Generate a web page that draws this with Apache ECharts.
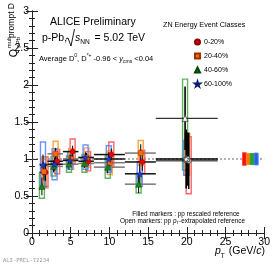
<!DOCTYPE html>
<html><head><meta charset="utf-8">
<script src="https://cdn.jsdelivr.net/npm/echarts@6/dist/echarts.min.js"></script>
<style>html,body{margin:0;padding:0;background:#fff}#c{width:273px;height:264px}</style>
</head><body><div id="c"></div><script>
// ---------------- data ----------------
const classNames = ['0-20%', '20-40%', '40-60%', '60-100%'];
const binCenters = [1.5, 3, 5, 7, 10, 14, 20];
const binLow = [1, 2, 4, 6, 8, 12, 16];
const binHigh = [2, 4, 6, 8, 12, 16, 24];
const openMarker = [false, false, false, false, false, false, true];

const q0020 = [0.82, 0.97, 1.10, 0.97, 1.06, 0.96, 0.975];
const stat0020 = [0.12, 0.08, 0.08, 0.06, 0.08, 0.12, 0.38];
const sysLo0020 = [0.61, 0.80, 0.93, 0.84, 0.89, 0.80, 0.53];
const sysHi0020 = [1.03, 1.13, 1.27, 1.10, 1.23, 1.12, 1.30];

const q2040 = [0.83, 1.07, 1.00, 1.02, 0.95, 1.08, 1.00];
const stat2040 = [0.12, 0.08, 0.07, 0.06, 0.08, 0.12, 0.36];
const sysLo2040 = [0.63, 0.90, 0.86, 0.89, 0.79, 0.91, 0.78];
const sysHi2040 = [1.03, 1.24, 1.14, 1.15, 1.11, 1.25, 1.35];

const q4060 = [0.63, 0.90, 0.93, 0.94, 0.89, 0.66, 1.55];
const stat4060 = [0.12, 0.08, 0.07, 0.06, 0.08, 0.12, 0.43];
const sysLo4060 = [0.47, 0.77, 0.82, 0.82, 0.74, 0.54, 0.85];
const sysHi4060 = [0.81, 1.03, 1.04, 1.06, 1.04, 0.78, 2.08];

const q60100 = [0.92, 0.93, 0.98, 1.02, 1.00, 0.80, 1.00];
const stat60100 = [0.14, 0.09, 0.08, 0.07, 0.09, 0.14, 0.40];
const sysLo60100 = [0.62, 0.72, 0.86, 0.86, 0.82, 0.63, 0.78];
const sysHi60100 = [1.23, 1.14, 1.10, 1.19, 1.18, 0.96, 1.25];

const normCenters = [27.45, 27.95, 28.45, 28.97];
const normUnc = [0.085, 0.075, 0.075, 0.08];
const refLineX = [0, 30];
const refLineY = 1;

const xTicks = [0, 5, 10, 15, 20, 25, 30];
const yTicks = [0, 0.5, 1, 1.5, 2, 2.5, 3];

// ---------------- style ----------------
const FONT = 'Liberation Sans, Arial, sans-serif';
const markerColors = ['#ee0000', '#ff6a00', '#138a13', '#1f3fd0'];
const markerBorders = ['#8a0000', '#a03000', '#004800', '#0a1a70'];
const boxColors = ['#ff4040', '#ff8c1a', '#3aa03a', '#4a78ff'];
const normFill = ['#ff0000', '#ff7000', '#16a016', '#1060e0'];
const xErrColors = ['#111', '#777', '#777', '#111'];
const offsets = [0.25, 0.05, -0.22, -0.08];
const STAR = 'path://M50,0 L61,35 L98,35 L68,57 L79,91 L50,70 L21,91 L32,57 L2,35 L39,35 Z';
const symbols = ['circle', 'rect', 'triangle', STAR];
const symSizes = [5, 5, 6, 7];

const classData = [
  [q0020, stat0020, sysLo0020, sysHi0020],
  [q2040, stat2040, sysLo2040, sysHi2040],
  [q4060, stat4060, sysLo4060, sysHi4060],
  [q60100, stat60100, sysLo60100, sysHi60100]
];

const series = [];
series.push({
  type: 'line', silent: true, symbol: 'none', z: 1,
  data: refLineX.map(x => [x, refLineY]),
  lineStyle: { color: '#666', width: 1, type: [2, 2] }
});
series.push({
  type: 'custom', z: 2, silent: true,
  data: normCenters.map((c, i) => [c, normUnc[i], i]),
  renderItem: function (params, api) {
    const c = api.value(0), u = api.value(1), i = api.value(2);
    const p1 = api.coord([c - 0.25, 1 + u]);
    const p2 = api.coord([c + 0.25, 1 - u]);
    return { type: 'rect', shape: { x: p1[0], y: p1[1], width: p2[0] - p1[0], height: p2[1] - p1[1] },
      style: { fill: normFill[i], stroke: boxColors[i], lineWidth: 1, opacity: 0.95 } };
  }
});

classData.forEach((cd, k) => {
  const [vals, stat, lo, hi] = cd;
  series.push({
    type: 'custom', z: 3, silent: true,
    data: binCenters.map((c, i) => [c + offsets[k], lo[i], hi[i]]),
    renderItem: function (params, api) {
      const x = api.value(0);
      const p1 = api.coord([x, api.value(2)]);
      const p2 = api.coord([x, api.value(1)]);
      const w = 5;
      return { type: 'rect', shape: { x: p1[0] - w / 2, y: p1[1], width: w, height: p2[1] - p1[1] },
        style: { fill: 'none', stroke: boxColors[k], lineWidth: 1.4, opacity: 0.8 } };
    }
  });
  series.push({
    type: 'custom', z: 4, silent: true,
    data: binCenters.map((c, i) => [c + offsets[k], vals[i], stat[i], binLow[i], binHigh[i], i]),
    renderItem: function (params, api) {
      const x = api.value(0), v = api.value(1), e = api.value(2);
      const a = api.coord([x, v + e]), b = api.coord([x, v - e]);
      const l = api.coord([api.value(3), v]), r = api.coord([api.value(4), v]);
      const last = api.value(5) === 6;
      return { type: 'group', children: [
        { type: 'line', shape: { x1: l[0], y1: l[1], x2: r[0], y2: r[1] },
          style: { stroke: last ? '#000' : xErrColors[k], lineWidth: last ? 1 : 1.5 } },
        { type: 'line', shape: { x1: a[0], y1: a[1], x2: b[0], y2: b[1] },
          style: { stroke: '#000', lineWidth: last ? 1.6 : 1 } }
      ] };
    }
  });
  series.push({
    type: 'scatter', name: classNames[k], z: 5,
    symbol: symbols[k], symbolSize: symSizes[k],
    itemStyle: { color: markerColors[k], borderColor: markerBorders[k], borderWidth: 0.5, opacity: 1 },
    data: binCenters.map((c, i) => openMarker[i]
      ? { value: [c + offsets[k], vals[i]], itemStyle: { color: '#fff', borderColor: '#555', borderWidth: 1 } }
      : [c + offsets[k], vals[i]])
  });
});

// --------------- text helpers ---------------
const mctx = document.createElement('canvas').getContext('2d');
function tw(t, size, style) {
  mctx.font = (style || 'normal') + ' ' + size + 'px ' + FONT;
  return mctx.measureText(t).width;
}
function seq(x, y, segs) {
  const out = [];
  let cx = x;
  segs.forEach(s => {
    out.push({ type: 'text', x: cx + (s.dx || 0), y: y + (s.dy || 0), silent: true,
      style: { text: s.t, font: (s.st || 'normal') + ' ' + s.size + 'px ' + FONT,
        fill: s.color || '#000', align: 'left', verticalAlign: 'middle' } });
    cx += tw(s.t, s.size, s.st) + (s.dx || 0) + (s.gap || 0);
  });
  return out;
}
function rtext(x, yTop, t, size, st) {
  return { type: 'text', x: x, y: yTop, rotation: Math.PI / 2, silent: true,
    style: { text: t, font: (st || 'normal') + ' ' + size + 'px ' + FONT, fill: '#000', align: 'right', verticalAlign: 'middle' } };
}

let graphics = [];
graphics = graphics.concat(seq(50, 22, [{ t: 'ALICE Preliminary', size: 10.5 }]));
graphics = graphics.concat(seq(42, 38, [{ t: 'p-Pb,', size: 10.5, gap: 12 }]));
graphics.push({ type: 'polyline', silent: true, shape: { points: [[66, 39], [68, 38], [71, 46], [74.5, 29]] }, style: { stroke: '#000', lineWidth: 0.9, fill: 'none' } });
graphics = graphics.concat(seq(75, 38, [{ t: 's', size: 10.5, st: 'italic' }, { t: 'NN', size: 6.5, dy: 4 }, { t: ' = 5.02 TeV', size: 10.5, dx: 2 }]));
graphics = graphics.concat(seq(39, 59, [
  { t: 'Average D', size: 7.5 }, { t: '0', size: 5, dy: -3 }, { t: ', D', size: 7.5 }, { t: '*+', size: 5, dy: -3 },
  { t: ' -0.96 < ', size: 7.5 }, { t: 'y', size: 7.5, st: 'italic' }, { t: 'cms', size: 5, dy: 3 }, { t: ' <0.04', size: 7.5 }
]));
graphics = graphics.concat(seq(163, 25, [{ t: 'ZN Energy Event Classes', size: 7.2 }]));
graphics.push({ type: 'text', x: 186, y: 214, silent: true, style: { text: 'Filled markers : pp rescaled reference', font: '6.4px ' + FONT, fill: '#000', align: 'center', verticalAlign: 'middle' } });
graphics = graphics.concat(seq(120, 221, [
  { t: 'Open markers: pp ', size: 6.4 }, { t: 'p', size: 6.4, st: 'italic' }, { t: 'T', size: 4.2, dy: 2 }, { t: '-extrapolated reference', size: 6.4 }
]));
graphics.push({ type: 'text', x: 3, y: 261, silent: true, style: { text: 'ALI-PREL-72234', font: '5.5px DejaVu Sans Mono, monospace', fill: '#9a9a9a', align: 'left', verticalAlign: 'middle' } });
graphics = graphics.concat(seq(215, 251, [{ t: 'p', size: 10.5, st: 'italic' }, { t: 'T', size: 6.5, dy: 5 }, { t: ' (GeV/', size: 10.5, dx: 1 }, { t: 'c', size: 10.5, st: 'italic' }, { t: ')', size: 10.5 }]));
// y title
graphics.push(rtext(12, 3, 'prompt D', 8.5));
graphics.push(rtext(9, 37, 'mult', 6));
graphics.push(rtext(18.5, 37, 'pPb', 6));
graphics.push(rtext(14.5, 49, 'Q', 10.5));

const axisCommon = {
  min: 0, axisLine: { show: true, lineStyle: { color: '#222', width: 1 } },
  axisTick: { show: true, inside: true, length: 6, lineStyle: { color: '#222' } },
  minorTick: { show: true, splitNumber: 5, length: 3, lineStyle: { color: '#222' } },
  splitLine: { show: false }, minorSplitLine: { show: false }
};

const option = {
  animation: false,
  backgroundColor: '#fff',
  grid: { left: 32, right: 8, top: 11, bottom: 31, containLabel: false },
  xAxis: [
    Object.assign({}, axisCommon, { type: 'value', max: 30, interval: 5, position: 'bottom',
      axisLabel: { show: true, fontSize: 10.5, color: '#000', fontFamily: FONT, margin: 4,
        formatter: v => xTicks.indexOf(v) >= 0 ? String(v) : '' } }),
    Object.assign({}, axisCommon, { type: 'value', max: 30, interval: 5, position: 'top', axisLabel: { show: false } })
  ],
  yAxis: [
    Object.assign({}, axisCommon, { type: 'value', max: 3, interval: 0.5, position: 'left',
      axisLabel: { show: true, fontSize: 10.5, color: '#000', fontFamily: FONT, margin: 3,
        formatter: v => yTicks.indexOf(v) >= 0 ? String(v) : '' } }),
    Object.assign({}, axisCommon, { type: 'value', max: 3, interval: 0.5, position: 'right', axisLabel: { show: false } })
  ],
  legend: {
    orient: 'vertical', left: 194, top: 38, itemWidth: 5, itemHeight: 5, itemGap: 6,
    data: classNames, selectedMode: false, padding: 0,
    textStyle: { fontSize: 7, color: '#000', fontFamily: FONT, padding: [0, 0, 0, -1], lineHeight: 8 }
  },
  graphic: graphics,
  series: series
};

const chart = echarts.init(document.getElementById('c'), null, { renderer: 'canvas' });
chart.setOption(option);
</script></body></html>
